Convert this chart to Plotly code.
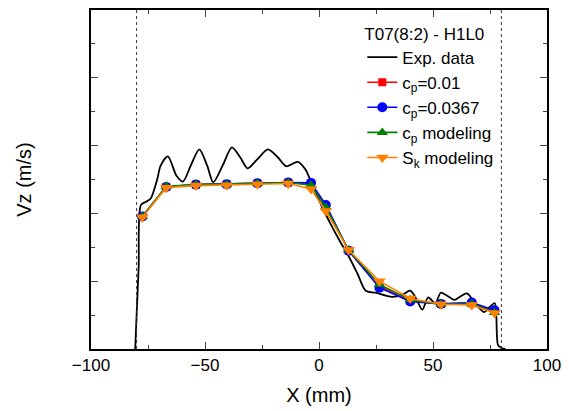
import plotly.graph_objects as go

# ---- data ----
exp_x = [-80.6, -80.0, -79.1, -78.1, -75.9, -73.8, -70.9, -69.5, -66.3, -62.5, -59.7, -56.0,
         -52.5, -49.0, -46.4, -42.0, -38.2, -34.5, -31.3, -27.0, -22.4, -18.0, -14.3, -9.3,
         -6.0, -4.0, -1.0, 2.0, 5.0, 9.0, 13.3, 16.9, 20.5, 24.8, 32.0, 36.4, 40.0, 42.5,
         45.3, 47.9, 51.0, 53.4, 56.0, 59.4, 62.0, 64.9, 68.5, 72.4, 75.0, 77.1, 78.5, 80.0, 81.7]
exp_y = [0.0, 0.10, 0.241, 0.425, 0.434, 0.444, 0.502, 0.540, 0.568, 0.511, 0.494, 0.545,
         0.589, 0.540, 0.492, 0.545, 0.595, 0.565, 0.533, 0.560, 0.589, 0.565, 0.539, 0.552,
         0.530, 0.502, 0.455, 0.41, 0.37, 0.32, 0.270, 0.222, 0.172, 0.166, 0.154, 0.159, 0.172, 0.150,
         0.116, 0.152, 0.135, 0.166, 0.158, 0.145, 0.155, 0.164, 0.135, 0.109, 0.125, 0.135, 0.012, 0.003, 0.0]

model_x = [-77.5, -67, -54, -40.5, -27, -13.5, -3.5, 3, 13, 26.5, 40, 53.5, 67, 77]
cp_001 = [0.391, 0.478, 0.485, 0.486, 0.489, 0.491, 0.487, 0.420, 0.290, 0.185, 0.142, 0.133, 0.135, 0.112]
cp_0367 = [0.391, 0.478, 0.485, 0.486, 0.489, 0.491, 0.490, 0.425, 0.290, 0.181, 0.140, 0.133, 0.137, 0.114]
cp_model = [0.391, 0.480, 0.485, 0.486, 0.489, 0.491, 0.483, 0.418, 0.292, 0.190, 0.145, 0.132, 0.133, 0.108]
sk_model = [0.389, 0.476, 0.482, 0.483, 0.486, 0.488, 0.472, 0.407, 0.292, 0.200, 0.149, 0.132, 0.130, 0.106]

boundary_x = [-80, 80]
x_ticks = [-100, -50, 0, 50, 100]

FONT = "Liberation Sans, Arial, sans-serif"

fig = go.Figure()
fig.add_trace(go.Scatter(x=exp_x, y=exp_y, mode="lines", name="Exp. data",
                         line=dict(color="black", width=1.8, shape="spline", smoothing=0.8)))
series = [
    ("c<sub>p</sub>=0.01", cp_001, "red", "square", 8),
    ("c<sub>p</sub>=0.0367", cp_0367, "blue", "circle", 10),
    ("c<sub>p</sub> modeling", cp_model, "green", "triangle-up", 10),
    ("S<sub>k</sub> modeling", sk_model, "#FF8000", "triangle-down", 11),
]
for name, ys, col, sym, sz in series:
    fig.add_trace(go.Scatter(x=model_x, y=ys, mode="lines+markers", name=name,
                             line=dict(color=col, width=1.6),
                             marker=dict(symbol=sym, size=sz, color=col)))

for bx in boundary_x:
    fig.add_shape(type="line", xref="x", yref="paper", x0=bx, x1=bx, y0=0, y1=1,
                  line=dict(color="#333333", width=1, dash="dot"))

fig.update_layout(
    width=569, height=411,
    margin=dict(l=91, r=15, t=8, b=58),
    paper_bgcolor="white", plot_bgcolor="white",
    font=dict(family=FONT, color="black"),
    showlegend=True,
    legend=dict(x=0.595, y=0.978, xanchor="left", yanchor="top",
                bgcolor="rgba(0,0,0,0)", font=dict(size=17, family=FONT),
                title=dict(text="T07(8:2) - H1L0", font=dict(size=17, family=FONT)),
                tracegroupgap=0, itemwidth=30),
)
fig.update_xaxes(range=[-100, 100], tickvals=x_ticks, ticks="inside", ticklen=7, tickwidth=1.2,
                 showline=True, linecolor="black", linewidth=1.5, mirror="allticks",
                 showgrid=False, zeroline=False, tickfont=dict(size=17),
                 minor=dict(dtick=25, ticks="inside", ticklen=4, tickwidth=1.2, showgrid=False),
                 title=dict(text="X (mm)", font=dict(size=20), standoff=14))
fig.update_yaxes(range=[0, 1.0], dtick=0.2, ticks="inside", ticklen=7, tickwidth=1.2,
                 showticklabels=False,
                 showline=True, linecolor="black", linewidth=1.5, mirror="allticks",
                 showgrid=False, zeroline=False,
                 minor=dict(dtick=0.1, ticks="inside", ticklen=4, tickwidth=1.2, showgrid=False),
                 title=dict(text="Vz (m/s)", font=dict(size=20), standoff=52))

fig.write_html("out.html", config={"displayModeBar": False},
               post_script="document.body.style.margin='0';document.body.style.overflow='hidden';")
